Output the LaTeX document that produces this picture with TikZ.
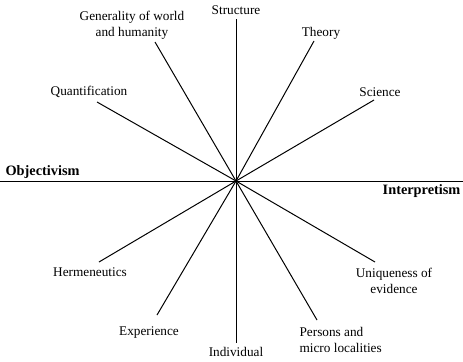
\documentclass[tikz,border=0pt]{standalone}
\usepackage{fontspec}
\setmainfont{Liberation Serif}
\usetikzlibrary{positioning}
\tikzset{
  lbl/.style={font=\fontsize{10}{12}\selectfont,align=center,inner sep=1pt},
  pole/.style={font=\fontsize{10.8}{13}\selectfont\bfseries,inner sep=1pt},
  ray/.style={line width=0.75pt}
}
\begin{document}
\begin{tikzpicture}[x=0.0265cm,y=-0.0265cm]
\useasboundingbox (0,0) rectangle (463,361);
% centre and axes
\coordinate (o) at (236,181);
\coordinate (west) at (0,181);
\coordinate (east) at (463,181);
\coordinate (top) at (236,19);
\coordinate (bot) at (236,343);
\draw[ray] (west) -- (east);
\draw[ray] (top) -- (bot);
% labels
\node[lbl] (struct) at (236,10) {Structure};
\node[lbl] (gen) at (132,25) {Generality of world\\and humanity};
\node[lbl] (quant) at (89,92) {Quantification};
\node[lbl] (theory) at (321,33) {Theory};
\node[lbl] (sci) at (380,92) {Science};
\node[lbl] (herm) at (90,272) {Hermeneutics};
\node[lbl] (exper) at (149,333) {Experience};
\node[lbl] (indiv) at (236,352) {Individual};
\node[lbl] (uniq) at (394,281) {Uniqueness of\\evidence};
\node[lbl,align=left,anchor=west] (pers) at (298,340) {Persons and\\micro localities};
\node[pole,anchor=west] (obj) at (4,172) {Objectivism};
\node[pole,anchor=east] (interp) at (462,191) {Interpretism};
% ray ends
\coordinate (genE) at (155,42);
\coordinate (quantE) at (97,102);
\coordinate (theoryE) at (314,41);
\coordinate (sciE) at (374,100);
\coordinate (hermE) at (99,262);
\coordinate (experE) at (157,315);
\coordinate (uniqE) at (375,262);
\coordinate (persE) at (317,320);
\foreach \e in {genE,quantE,theoryE,sciE,hermE,experE,uniqE,persE}
  \draw[ray] (o) -- (\e);
\end{tikzpicture}
\end{document}
